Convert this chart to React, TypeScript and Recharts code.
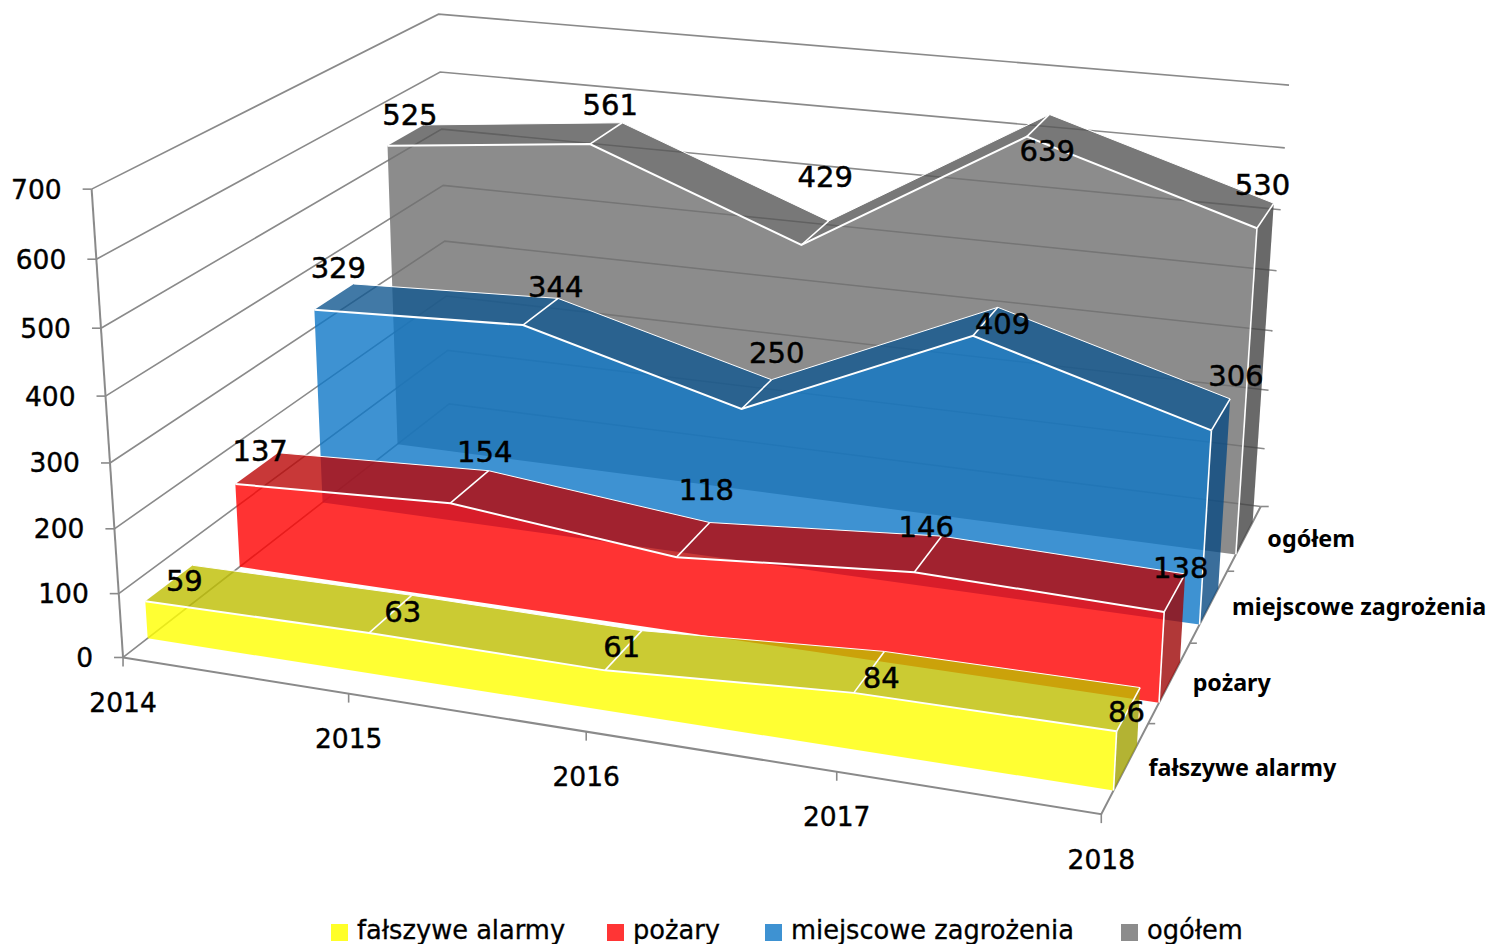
import React from 'react';
import { ScatterChart, Scatter, XAxis, YAxis } from 'recharts';

// ---------- data ----------
const years = ['2014', '2015', '2016', '2017', '2018'];
const valueTicks = [0, 100, 200, 300, 400, 500, 600, 700];
const falseAlarms = [59, 63, 61, 84, 86];
const fires = [137, 154, 118, 146, 138];
const localHazards = [329, 344, 250, 409, 306];
const total = [525, 561, 429, 639, 530];
const seriesNames = ['fałszywe alarmy', 'pożary', 'miejscowe zagrożenia', 'ogółem'];
const seriesValues = [falseAlarms, fires, localHazards, total];

// ---------- styles ----------
const MAX = 700;
const ALPHA = 0.8;
const frontColors = ['#ffff00', '#ff0000', '#0e77c7', '#6f6f6f'];
const topColors = ['#bebe00', '#ba0606', '#115790', '#565656'];
const sideColors = ['#a0a000', '#9e0606', '#094a82', '#444444'];
const legendColors = ['#ffff28', '#ff3535', '#3e92d2', '#8c8c8c'];
const legendSwatchX = [331, 607, 765, 1121];
const legendTextX = [357, 633, 791, 1147];
const GRID = '#8a8a8a';
const labelNudges = [
  [[15, -2], [12, -2], [-2, -3], [12, 6], [-2, 3]],
  [[3, -17], [15, -35], [13, -50], [-2, -27], [6, -25]],
  [[4, -29], [15, -25], [20, -41], [17, 3], [15, -38]],
  [[4, -20], [4, -28], [10, -56], [9, 26], [-3, -31]],
];

// ---------- perspective fitted to the axes (u = year, v = depth, w = value) ----------
const calibration = [
  [0, 0, 0, 123.3, 657.3], [1, 0, 0, 1100.7, 814.3], [1, 1, 0, 1260.7, 506.7],
  [0, 0, 1, 91.7, 189.3], [0, 1, 1, 438.3, 14], [1, 1, 1, 1289.3, 85],
  [0, 0, 6 / 7, 96.7, 259.3], [0, 0, 5 / 7, 100.7, 328.3], [0, 0, 3 / 7, 110, 462.7],
  [0, 0, 2 / 7, 114.3, 528.3], [0, 0, 1 / 7, 119, 593.3],
  [0, 1, 6 / 7, 440, 71.7], [0, 1, 5 / 7, 441.7, 129.3], [0, 1, 4 / 7, 443.3, 185.7], [0, 1, 3 / 7, 445, 241],
  [1, 1, 6 / 7, 1285, 148], [1, 1, 5 / 7, 1280, 210], [1, 1, 4 / 7, 1276.7, 270.7],
  [1, 0.25, 0, 1149, 723], [1, 0.5, 0, 1190, 643], [1, 0.75, 0, 1227, 571],
  [0.25, 0, 0, 348, 695],
];

function solve(A: number[][], b: number[]) {
  const n = b.length;
  const M = A.map((r, i) => [...r, b[i]]);
  for (let c = 0; c < n; c++) {
    let p = c;
    for (let r = c + 1; r < n; r++) if (Math.abs(M[r][c]) > Math.abs(M[p][c])) p = r;
    [M[c], M[p]] = [M[p], M[c]];
    for (let r = 0; r < n; r++) {
      if (r === c) continue;
      const f = M[r][c] / M[c][c];
      for (let k = c; k <= n; k++) M[r][k] -= f * M[c][k];
    }
  }
  return M.map((r, i) => r[n] / r[i]);
}

function fit() {
  const rows: number[][] = [];
  const rhs: number[] = [];
  calibration.forEach(([u, v, w, x, y]) => {
    rows.push([u, v, w, 1, 0, 0, 0, 0, -x * u, -x * v, -x * w]);
    rhs.push(x);
    rows.push([0, 0, 0, 0, u, v, w, 1, -y * u, -y * v, -y * w]);
    rhs.push(y);
  });
  const N = 11;
  const AtA = Array.from({ length: N }, () => new Array(N).fill(0));
  const Atb = new Array(N).fill(0);
  rows.forEach((r, i) => {
    for (let a = 0; a < N; a++) {
      Atb[a] += r[a] * rhs[i];
      for (let c = 0; c < N; c++) AtA[a][c] += r[a] * r[c];
    }
  });
  return solve(AtA, Atb);
}
const m = fit();

function project(u: number, v: number, w: number) {
  const d = m[8] * u + m[9] * v + m[10] * w + 1;
  return {
    x: (m[0] * u + m[1] * v + m[2] * w + m[3]) / d,
    y: (m[4] * u + m[5] * v + m[6] * w + m[7]) / d,
  };
}
const at = (yearIdx: number, v: number, value: number) => project(yearIdx / (years.length - 1), v, value / MAX);

// ---------- drawing helpers ----------
const noDot = () => <g />;
let uid = 0;

function Face(pts: { x: number; y: number }[], fill: string, opacity = ALPHA) {
  const render = (p: any) => {
    const d = p.points.map((q: any, i: number) => `${i ? 'L' : 'M'}${q.x},${q.y}`).join('') + 'Z';
    return <path d={d} fill={fill} fillOpacity={opacity} stroke="none" />;
  };
  return <Scatter key={`f${uid++}`} data={pts} shape={noDot} line={render} isAnimationActive={false} legendType="none" />;
}

function Stroke(pts: { x: number; y: number }[], color: string, width: number) {
  const render = (p: any) => {
    const d = p.points.map((q: any, i: number) => `${i ? 'L' : 'M'}${q.x},${q.y}`).join('');
    return <path d={d} fill="none" stroke={color} strokeWidth={width} />;
  };
  return <Scatter key={`s${uid++}`} data={pts} shape={noDot} line={render} isAnimationActive={false} legendType="none" />;
}

function Texts(items: { x: number; y: number; label: string }[], style: any) {
  const shape = (p: any) => (
    <text x={p.cx} y={p.cy} dominantBaseline="central" fill="#000" {...style}>
      {p.payload.label}
    </text>
  );
  return <Scatter key={`t${uid++}`} data={items} shape={shape} isAnimationActive={false} legendType="none" />;
}

function Swatches(items: { x: number; y: number; color: string }[]) {
  const shape = (p: any) => <rect x={p.cx} y={p.cy - 8} width={17} height={17} fill={p.payload.color} />;
  return <Scatter key={`w${uid++}`} data={items} shape={shape} isAnimationActive={false} legendType="none" />;
}

function axes() {
  const out: React.ReactNode[] = [];
  valueTicks.forEach((t) => {
    out.push(Stroke([at(0, 0, t), at(0, 1, t), at(4, 1, t)], GRID, 1.6));
    const a = at(0, 0, t);
    out.push(Stroke([{ x: a.x - 9, y: a.y }, a], GRID, 1.6));
    const r = at(4, 1, t);
    if (t === 0) out.push(Stroke([r, { x: r.x + 8, y: r.y }], GRID, 1.6));
  });
  out.push(Stroke([at(0, 0, 0), at(0, 0, MAX)], GRID, 2));
  out.push(Stroke([at(0, 0, 0), at(4, 0, 0), at(4, 1, 0)], GRID, 2));
  years.forEach((_, i) => {
    const a = at(i, 0, 0);
    out.push(Stroke([a, { x: a.x, y: a.y + 9 }], GRID, 1.6));
  });
  [0.25, 0.5, 0.75].forEach((v) => {
    const a = at(4, v, 0);
    out.push(Stroke([a, { x: a.x + 7, y: a.y }], GRID, 1.6));
  });
  return out;
}

function seriesMarks(k: number) {
  const vals = seriesValues[k];
  const vF = k / 4 + 1 / 16;
  const vB = k / 4 + 3 / 16;
  const out: React.ReactNode[] = [];
  const last = vals.length - 1;
  for (let i = 0; i < last; i++) {
    out.push(Face([at(i, vF, vals[i]), at(i + 1, vF, vals[i + 1]), at(i + 1, vB, vals[i + 1]), at(i, vB, vals[i])], topColors[k]));
  }
  const frontTop = vals.map((val, i) => at(i, vF, val));
  out.push(Face([...frontTop, at(last, vF, 0), at(0, vF, 0)], frontColors[k]));
  out.push(Face([at(last, vF, vals[last]), at(last, vB, vals[last]), at(last, vB, 0), at(last, vF, 0)], sideColors[k]));
  out.push(Stroke(frontTop, '#ffffff', 2));
  out.push(Stroke(vals.map((val, i) => at(i, vB, val)), '#ffffff', 1));
  for (let i = 1; i <= last; i++) {
    out.push(Stroke([at(i, vF, vals[i]), at(i, vB, vals[i])], '#ffffff', 1.6));
  }
  out.push(Stroke([at(last, vF, vals[last]), at(last, vF, 0)], '#ffffff', 1.6));
  return out;
}

const labelStyle = { fontFamily: 'DejaVu Sans', fontSize: 29, textAnchor: 'middle', stroke: '#000', strokeWidth: 0.5 };
const axisStyle = { fontFamily: 'DejaVu Sans', fontSize: 26.5, stroke: '#000', strokeWidth: 0.4 };
const depthStyle = { fontFamily: 'Noto Sans', fontSize: 23.3, fontWeight: 700, textAnchor: 'start' };
const legendStyle = { fontFamily: 'DejaVu Sans', fontSize: 25.7, textAnchor: 'start', stroke: '#000', strokeWidth: 0.3 };

function allLabels() {
  const out: React.ReactNode[] = [];
  seriesValues.forEach((vals, k) => {
    const v = k / 4 + 1 / 8;
    out.push(
      Texts(
        vals.map((val, i) => {
          const a = at(i, v, val);
          return { x: a.x + labelNudges[k][i][0], y: a.y + labelNudges[k][i][1], label: String(val) };
        }),
        labelStyle,
      ),
    );
  });
  out.push(
    Texts(
      valueTicks.map((t) => {
        const a = at(0, 0, t);
        return { x: a.x - 30, y: a.y, label: String(t) };
      }),
      { ...axisStyle, textAnchor: 'end' },
    ),
  );
  out.push(
    Texts(
      years.map((y, i) => {
        const a = at(i, 0, 0);
        return { x: a.x, y: a.y + 45, label: y };
      }),
      { ...axisStyle, textAnchor: 'middle' },
    ),
  );
  out.push(
    Texts(
      seriesNames.map((n, k) => {
        const a = at(4, k / 4 + 1 / 8, 0);
        return { x: a.x + 23, y: a.y, label: n };
      }),
      depthStyle,
    ),
  );
  out.push(Swatches(legendColors.map((color, k) => ({ x: legendSwatchX[k], y: 932, color }))));
  out.push(Texts(seriesNames.map((n, k) => ({ x: legendTextX[k], y: 930, label: n })), legendStyle));
  return out;
}

export default function App() {
  uid = 0;
  return (
    <div style={{ position: 'absolute', left: 0, top: 0, width: 1491, height: 944, background: '#fff' }}>
      <ScatterChart width={1491} height={944} margin={{ top: 0, right: 0, bottom: 0, left: 0 }}>
        <XAxis dataKey="x" type="number" domain={[0, 1491]} allowDataOverflow hide />
        <YAxis dataKey="y" type="number" domain={[0, 944]} reversed allowDataOverflow hide />
        {axes()}
        {[3, 2, 1, 0].map((k) => seriesMarks(k))}
        {allLabels()}
      </ScatterChart>
    </div>
  );
}
